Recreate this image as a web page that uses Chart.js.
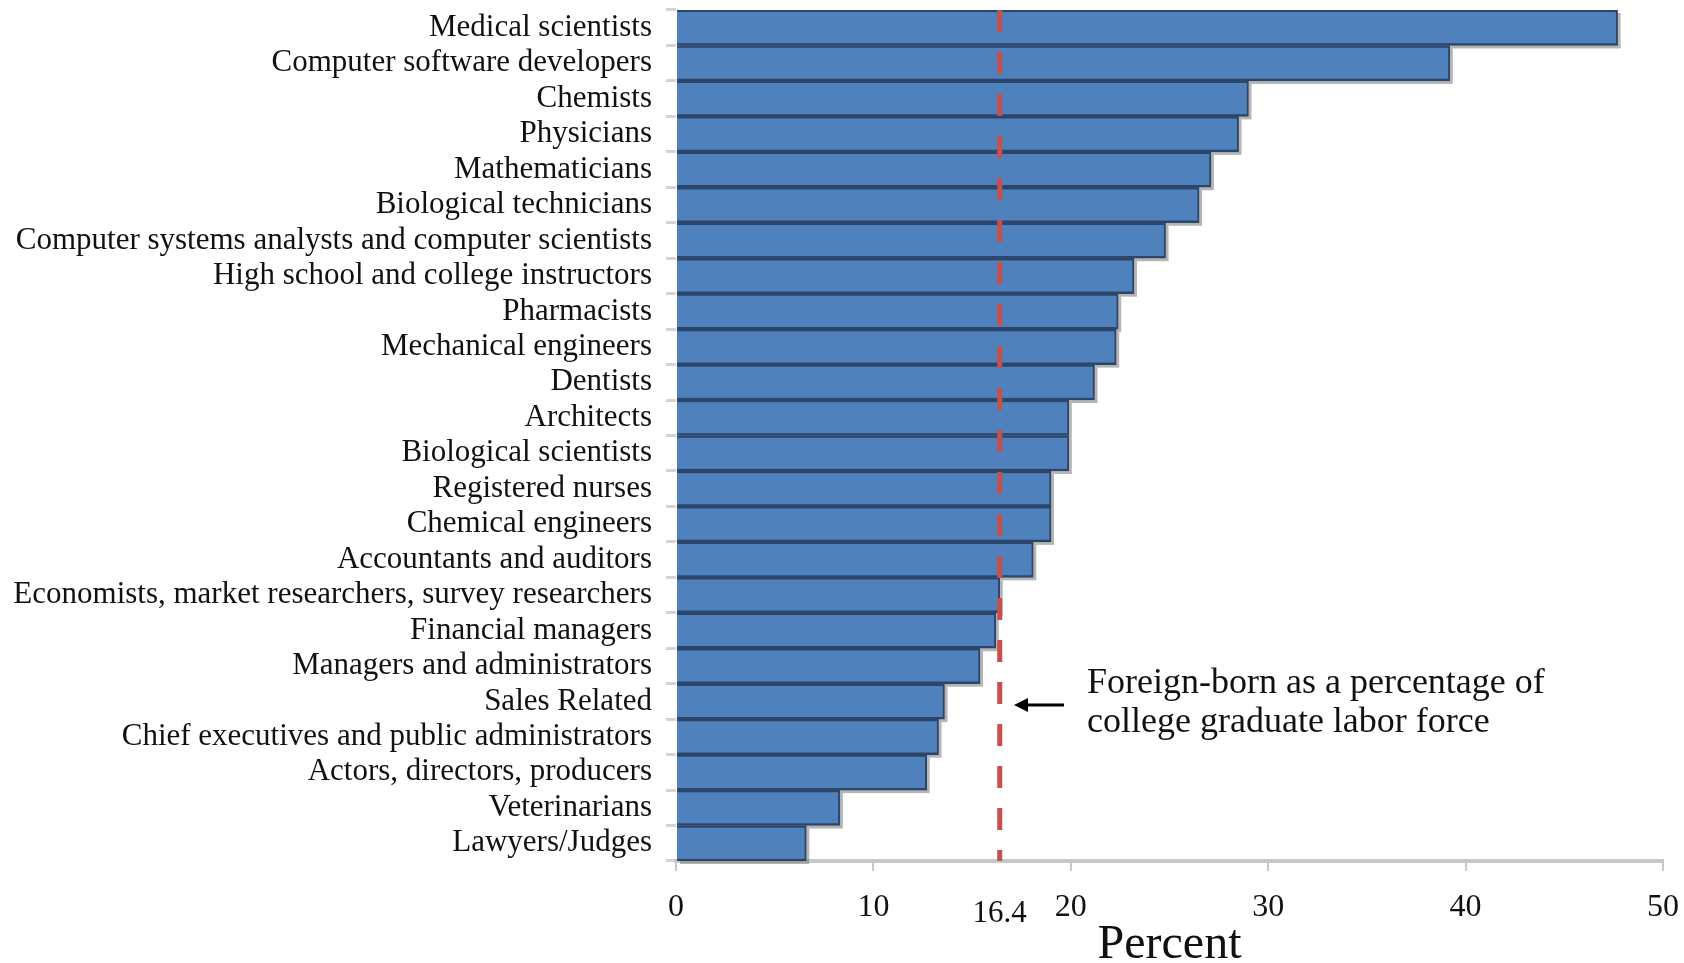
<!DOCTYPE html>
<html lang="en">
<head>
  <meta charset="UTF-8">
  <title>Foreign-born share by occupation</title>
  <script src="https://cdn.jsdelivr.net/npm/chart.js"></script>
  <style>
    html, body { margin: 0; padding: 0; background: #fff; }
    #wrap { width: 1684px; height: 963px; position: relative; }
  </style>
</head>
<body>
  <div id="wrap"><canvas id="chart"></canvas></div>

  <script>
    const occupations = [
      'Medical scientists', 'Computer software developers', 'Chemists', 'Physicians',
      'Mathematicians', 'Biological technicians',
      'Computer systems analysts and computer scientists',
      'High school and college instructors', 'Pharmacists', 'Mechanical engineers',
      'Dentists', 'Architects', 'Biological scientists', 'Registered nurses',
      'Chemical engineers', 'Accountants and auditors',
      'Economists, market researchers, survey researchers', 'Financial managers',
      'Managers and administrators', 'Sales Related',
      'Chief executives and public administrators', 'Actors, directors, producers',
      'Veterinarians', 'Lawyers/Judges'
    ];
    const foreignBornPct = [
      47.7, 39.2, 29.0, 28.5, 27.1, 26.5, 24.8, 23.2, 22.4, 22.3, 21.2, 19.9,
      19.9, 19.0, 19.0, 18.1, 16.4, 16.2, 15.4, 13.6, 13.3, 12.7, 8.3, 6.6
    ];
    const xTicks = [0, 10, 20, 30, 40, 50];
    const overallPct = 16.4;
    const noteLines = ['Foreign-born as a percentage of', 'college graduate labor force'];

    const serif = '"Liberation Serif", "DejaVu Serif", serif';

    // gray drop shadow behind each bar
    const barShadow = {
      id: 'barShadow',
      beforeDatasetsDraw(chart) {
        const ctx = chart.ctx;
        const meta = chart.getDatasetMeta(0);
        ctx.save();
        ctx.fillStyle = 'rgba(120,120,120,0.55)';
        meta.data.forEach(bar => {
          const p = bar.getProps(['x', 'y', 'base', 'height'], true);
          ctx.fillRect(p.base + 3, p.y - p.height / 2 + 3, p.x - p.base, p.height);
        });
        ctx.restore();
      }
    };

    // reference line, its label and the note
    const refLine = {
      id: 'refLine',
      afterDatasetsDraw(chart) {
        const ctx = chart.ctx;
        const x = chart.scales.x.getPixelForValue(overallPct);
        const area = chart.chartArea;
        ctx.save();
        ctx.strokeStyle = '#c8504c';
        ctx.lineWidth = 5;
        ctx.setLineDash([22, 20]);
        ctx.beginPath();
        ctx.moveTo(x, area.top);
        ctx.lineTo(x, area.bottom);
        ctx.stroke();
        ctx.setLineDash([]);

        ctx.fillStyle = '#111';
        ctx.font = '31px ' + serif;
        ctx.textAlign = 'center';
        ctx.textBaseline = 'middle';
        ctx.fillText(String(overallPct), x, 914);

        // arrow
        ctx.strokeStyle = '#000';
        ctx.lineWidth = 3;
        ctx.beginPath();
        ctx.moveTo(1064, 705);
        ctx.lineTo(1024, 705);
        ctx.stroke();
        ctx.beginPath();
        ctx.moveTo(1014, 705);
        ctx.lineTo(1028, 698);
        ctx.lineTo(1028, 712);
        ctx.closePath();
        ctx.fillStyle = '#000';
        ctx.fill();

        ctx.fillStyle = '#111';
        ctx.font = '36px ' + serif;
        ctx.textAlign = 'left';
        ctx.fillText(noteLines[0], 1087, 684);
        ctx.fillText(noteLines[1], 1087, 723);
        ctx.restore();
      }
    };

    new Chart(document.getElementById('chart'), {
      type: 'bar',
      data: {
        labels: occupations,
        datasets: [{
          data: foreignBornPct,
          backgroundColor: '#4f81bd',
          borderColor: '#2c466b',
          borderWidth: { top: 2.5, bottom: 2.5, right: 2, left: 0 },
          borderSkipped: 'left',
          categoryPercentage: 1,
          barPercentage: 1
        }]
      },
      options: {
        indexAxis: 'y',
        responsive: true,
        maintainAspectRatio: false,
        animation: false,
        layout: { padding: { top: 10, right: 21, left: 0, bottom: 0 } },
        plugins: {
          legend: { display: false },
          tooltip: { enabled: false }
        },
        scales: {
          x: {
            min: 0,
            max: 50,
            afterBuildTicks: s => { s.ticks = xTicks.map(v => ({ value: v })); },
            ticks: {
              color: '#111',
              font: { family: serif, size: 32 },
              padding: 17
            },
            grid: { drawOnChartArea: false, color: '#c8c8c8', lineWidth: 2, tickLength: 10 },
            border: { color: '#c8c8c8', width: 4 },
            title: {
              display: true,
              text: 'Percent',
              color: '#111',
              font: { family: serif, size: 48, lineHeight: 0.75 },
              padding: { top: 0, bottom: 0 }
            },
            afterFit: s => { s.height = 102; s.paddingLeft = 0; s.paddingRight = 0; }
          },
          y: {
            ticks: {
              color: '#111',
              font: { family: serif, size: 31 },
              padding: 14,
              autoSkip: false
            },
            grid: { drawOnChartArea: false, offset: true, color: '#d4d4d4', lineWidth: 3, tickLength: 10 },
            border: { display: false },
            afterFit: s => { s.width = 676; s.paddingTop = 0; s.paddingBottom = 0; }
          }
        }
      },
      plugins: [barShadow, refLine]
    });
  </script>
</body>
</html>
